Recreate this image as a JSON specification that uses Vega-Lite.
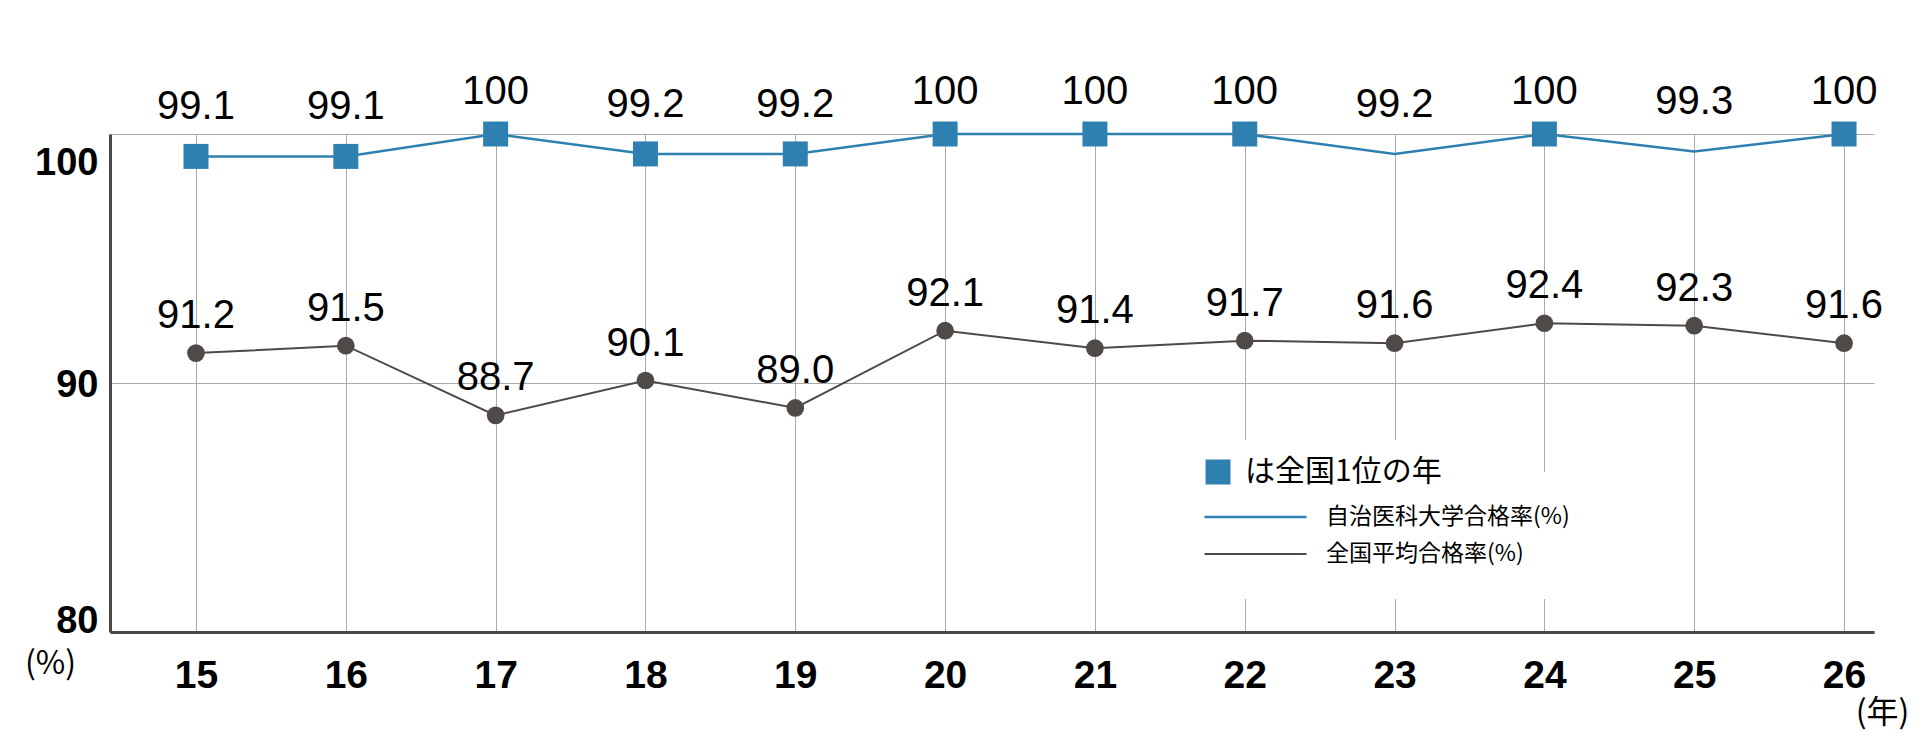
{
  "$schema": "https://vega.github.io/schema/vega-lite/v6.json",
  "description": "自治医科大学と全国平均の医師国家試験合格率",
  "width": 1764,
  "height": 498,
  "autosize": {"type": "none"},
  "padding": {"left": 110, "top": 134, "right": 51, "bottom": 111},
  "background": "white",
  "data": {
    "values": [
      {"year": 15, "series": "自治医科大学合格率(%)", "rate": 99.1, "top": "は全国1位の年"},
      {"year": 16, "series": "自治医科大学合格率(%)", "rate": 99.1, "top": "は全国1位の年"},
      {"year": 17, "series": "自治医科大学合格率(%)", "rate": 100, "top": "は全国1位の年"},
      {"year": 18, "series": "自治医科大学合格率(%)", "rate": 99.2, "top": "は全国1位の年"},
      {"year": 19, "series": "自治医科大学合格率(%)", "rate": 99.2, "top": "は全国1位の年"},
      {"year": 20, "series": "自治医科大学合格率(%)", "rate": 100, "top": "は全国1位の年"},
      {"year": 21, "series": "自治医科大学合格率(%)", "rate": 100, "top": "は全国1位の年"},
      {"year": 22, "series": "自治医科大学合格率(%)", "rate": 100, "top": "は全国1位の年"},
      {"year": 23, "series": "自治医科大学合格率(%)", "rate": 99.2, "top": null},
      {"year": 24, "series": "自治医科大学合格率(%)", "rate": 100, "top": "は全国1位の年"},
      {"year": 25, "series": "自治医科大学合格率(%)", "rate": 99.3, "top": null},
      {"year": 26, "series": "自治医科大学合格率(%)", "rate": 100, "top": "は全国1位の年"},
      {"year": 15, "series": "全国平均合格率(%)", "rate": 91.2, "top": null},
      {"year": 16, "series": "全国平均合格率(%)", "rate": 91.5, "top": null},
      {"year": 17, "series": "全国平均合格率(%)", "rate": 88.7, "top": null},
      {"year": 18, "series": "全国平均合格率(%)", "rate": 90.1, "top": null},
      {"year": 19, "series": "全国平均合格率(%)", "rate": 89.0, "top": null},
      {"year": 20, "series": "全国平均合格率(%)", "rate": 92.1, "top": null},
      {"year": 21, "series": "全国平均合格率(%)", "rate": 91.4, "top": null},
      {"year": 22, "series": "全国平均合格率(%)", "rate": 91.7, "top": null},
      {"year": 23, "series": "全国平均合格率(%)", "rate": 91.6, "top": null},
      {"year": 24, "series": "全国平均合格率(%)", "rate": 92.4, "top": null},
      {"year": 25, "series": "全国平均合格率(%)", "rate": 92.3, "top": null},
      {"year": 26, "series": "全国平均合格率(%)", "rate": 91.6, "top": null}
    ]
  },
  "encoding": {
    "x": {
      "field": "year",
      "type": "quantitative",
      "scale": {"domain": [14.426, 26.2], "nice": false, "zero": false},
      "axis": {
        "values": [15, 16, 17, 18, 19, 20, 21, 22, 23, 24, 25, 26],
        "format": "d",
        "title": "(年)",
        "titleFont": "Noto Sans CJK JP",
        "titleFontSize": 32,
        "titleFontWeight": "normal",
        "titleColor": "black",
        "titleX": 1772,
        "titleY": 80,
        "titleAlign": "center",
        "titleBaseline": "middle",
        "labelFont": "Liberation Sans",
        "labelFontSize": 39,
        "labelFontWeight": "bold",
        "labelColor": "black",
        "labelPadding": 24,
        "labelFlush": false,
        "labelOverlap": false,
        "ticks": false,
        "tickSize": 0,
        "domainColor": "#4d4847",
        "domainWidth": 3,
        "grid": true,
        "gridColor": "#aaaaaa",
        "gridWidth": 1
      }
    },
    "y": {
      "field": "rate",
      "type": "quantitative",
      "scale": {"domain": [80, 100], "nice": false, "zero": false},
      "axis": {
        "values": [80, 90, 100],
        "title": "(%)",
        "titleAngle": 0,
        "titleX": -60,
        "titleY": 529,
        "titleAlign": "center",
        "titleBaseline": "middle",
        "titleFont": "Noto Sans CJK JP",
        "titleFontSize": 32,
        "titleFontWeight": "normal",
        "titleColor": "black",
        "labelFont": "Liberation Sans",
        "labelFontSize": 38,
        "labelFontWeight": "bold",
        "labelColor": "black",
        "labelPadding": 12,
        "labelFlush": false,
        "labelBaseline": "alphabetic",
        "labelOffset": {
          "condition": [
            {"test": "datum.value == 100", "value": 40},
            {"test": "datum.value == 90", "value": 13}
          ],
          "value": 0
        },
        "ticks": false,
        "tickSize": 0,
        "domainColor": "#4d4847",
        "domainWidth": 3,
        "grid": true,
        "gridColor": "#aaaaaa",
        "gridWidth": 1
      }
    }
  },
  "layer": [
    {
      "mark": {"type": "line"},
      "encoding": {
        "color": {
          "field": "series",
          "type": "nominal",
          "sort": null,
          "scale": {
            "domain": ["自治医科大学合格率(%)", "全国平均合格率(%)"],
            "range": ["#2e80b0", "#4f4a48"]
          },
          "legend": {
            "orient": "none",
            "legendX": 1063,
            "legendY": 338,
            "title": null,
            "symbolType": "stroke",
            "symbolSize": 10404,
            "clipHeight": 30,
            "rowPadding": 7,
            "labelFont": "Noto Sans CJK JP",
            "labelFontSize": 23,
            "labelLimit": 500,
            "labelColor": "black",
            "labelOffset": 18,
            "fillColor": "white",
            "padding": 30
          }
        },
        "strokeWidth": {
          "field": "series",
          "type": "nominal",
          "sort": null,
          "scale": {
            "domain": ["自治医科大学合格率(%)", "全国平均合格率(%)"],
            "range": [2.5, 2]
          }
        }
      }
    },
    {
      "transform": [
        {"filter": {"field": "series", "equal": "自治医科大学合格率(%)"}},
        {"filter": "datum.top != null"}
      ],
      "mark": {"type": "point", "filled": true, "color": "#2e80b0", "opacity": 1, "size": 625},
      "encoding": {
        "shape": {
          "field": "top",
          "type": "nominal",
          "scale": {"domain": ["は全国1位の年"], "range": ["square"]},
          "legend": {
            "orient": "none",
            "legendX": 1076,
            "legendY": 306,
            "title": null,
            "symbolFillColor": "#2e80b0",
            "symbolStrokeWidth": 0,
            "symbolSize": 625,
            "labelFont": "Noto Sans CJK JP",
            "labelFontSize": 30,
            "labelLimit": 500,
            "labelColor": "black",
            "labelOffset": 12,
            "fillColor": "white",
            "padding": 17
          }
        }
      }
    },
    {
      "transform": [{"filter": {"field": "series", "equal": "全国平均合格率(%)"}}],
      "mark": {"type": "circle", "color": "#4f4a48", "opacity": 1, "size": 314}
    },
    {
      "transform": [
        {"filter": {"field": "series", "equal": "自治医科大学合格率(%)"}},
        {"filter": "datum.rate == 100"}
      ],
      "mark": {"type": "text", "font": "Liberation Sans", "fontSize": 40, "color": "black", "baseline": "alphabetic", "dy": -30},
      "encoding": {"text": {"field": "rate", "type": "quantitative", "format": ".0f"}}
    },
    {
      "transform": [
        {"filter": {"field": "series", "equal": "自治医科大学合格率(%)"}},
        {"filter": "datum.rate < 100"}
      ],
      "mark": {"type": "text", "font": "Liberation Sans", "fontSize": 40, "color": "black", "baseline": "alphabetic", "dy": -37},
      "encoding": {"text": {"field": "rate", "type": "quantitative", "format": ".1f"}}
    },
    {
      "transform": [{"filter": {"field": "series", "equal": "全国平均合格率(%)"}}],
      "mark": {"type": "text", "font": "Liberation Sans", "fontSize": 40, "color": "black", "baseline": "alphabetic", "dy": -25},
      "encoding": {"text": {"field": "rate", "type": "quantitative", "format": ".1f"}}
    }
  ],
  "config": {
    "view": {"stroke": null}
  }
}
